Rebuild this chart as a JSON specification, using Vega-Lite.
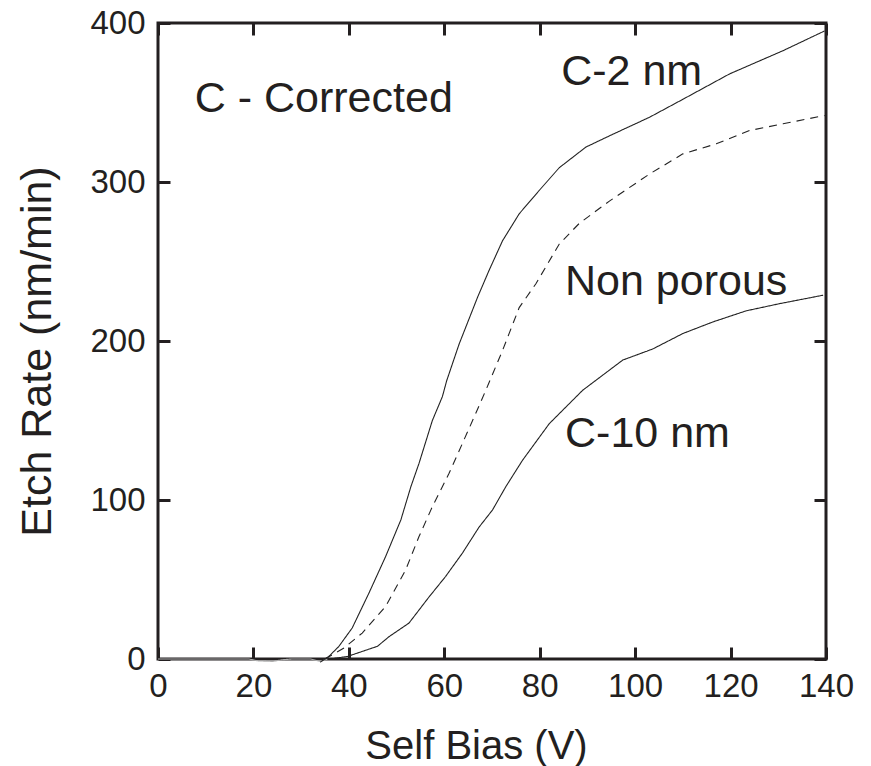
{
  "$schema": "https://vega.github.io/schema/vega-lite/v6.json",
  "width": 668,
  "height": 636,
  "autosize": {"type": "none"},
  "padding": {"left": 158, "top": 23, "right": 45, "bottom": 107},
  "background": "white",
  "config": {"view": {"stroke": "#231f20", "strokeWidth": 3}, "font": "Liberation Sans"},
  "datasets": {
    "curves": [
      {"series": "base", "x": 0, "y": 0},
      {"series": "base", "x": 19, "y": 0},
      {"series": "base", "x": 21, "y": -1.2},
      {"series": "base", "x": 24, "y": -1.5},
      {"series": "base", "x": 26, "y": -0.5},
      {"series": "base", "x": 28, "y": 0},
      {"series": "base", "x": 32, "y": 0},
      {"series": "base", "x": 34, "y": -1.5},
      {"series": "base", "x": 35.5, "y": 0},
      {"series": "C-2 nm", "x": 34, "y": -2},
      {"series": "C-2 nm", "x": 35.8, "y": 1.6},
      {"series": "C-2 nm", "x": 37.9, "y": 7.9},
      {"series": "C-2 nm", "x": 40.7, "y": 19.5},
      {"series": "C-2 nm", "x": 44.2, "y": 41.4},
      {"series": "C-2 nm", "x": 47.7, "y": 64.4},
      {"series": "C-2 nm", "x": 50.9, "y": 87.5},
      {"series": "C-2 nm", "x": 53.0, "y": 108.4},
      {"series": "C-2 nm", "x": 54.7, "y": 123},
      {"series": "C-2 nm", "x": 57.5, "y": 150},
      {"series": "C-2 nm", "x": 59.6, "y": 165},
      {"series": "C-2 nm", "x": 60.5, "y": 175},
      {"series": "C-2 nm", "x": 63.1, "y": 198},
      {"series": "C-2 nm", "x": 67.0, "y": 227.7},
      {"series": "C-2 nm", "x": 69.4, "y": 244.5},
      {"series": "C-2 nm", "x": 72.2, "y": 263},
      {"series": "C-2 nm", "x": 75.7, "y": 280},
      {"series": "C-2 nm", "x": 79.9, "y": 294.7},
      {"series": "C-2 nm", "x": 84.1, "y": 309},
      {"series": "C-2 nm", "x": 89.7, "y": 322},
      {"series": "C-2 nm", "x": 95.3, "y": 330},
      {"series": "C-2 nm", "x": 103, "y": 340.7},
      {"series": "C-2 nm", "x": 110, "y": 352},
      {"series": "C-2 nm", "x": 119.8, "y": 368},
      {"series": "C-2 nm", "x": 131, "y": 382.6},
      {"series": "C-2 nm", "x": 139.7, "y": 395},
      {"series": "Non porous", "x": 35, "y": 0},
      {"series": "Non porous", "x": 39, "y": 7},
      {"series": "Non porous", "x": 42.8, "y": 16.3},
      {"series": "Non porous", "x": 47.7, "y": 33},
      {"series": "Non porous", "x": 51.9, "y": 56},
      {"series": "Non porous", "x": 54.7, "y": 77},
      {"series": "Non porous", "x": 57.5, "y": 95.8},
      {"series": "Non porous", "x": 61, "y": 116.8},
      {"series": "Non porous", "x": 63.8, "y": 135.6},
      {"series": "Non porous", "x": 66.6, "y": 154.5},
      {"series": "Non porous", "x": 68.7, "y": 169},
      {"series": "Non porous", "x": 72.2, "y": 194},
      {"series": "Non porous", "x": 75.7, "y": 221},
      {"series": "Non porous", "x": 79.2, "y": 236},
      {"series": "Non porous", "x": 84.1, "y": 261},
      {"series": "Non porous", "x": 88.3, "y": 274},
      {"series": "Non porous", "x": 94.6, "y": 288},
      {"series": "Non porous", "x": 103, "y": 305},
      {"series": "Non porous", "x": 110, "y": 317.7},
      {"series": "Non porous", "x": 117, "y": 324},
      {"series": "Non porous", "x": 124, "y": 332.4},
      {"series": "Non porous", "x": 131, "y": 336.6},
      {"series": "Non porous", "x": 139.7, "y": 341.8},
      {"series": "C-10 nm", "x": 36, "y": 0},
      {"series": "C-10 nm", "x": 39.7, "y": 1.6},
      {"series": "C-10 nm", "x": 46, "y": 8},
      {"series": "C-10 nm", "x": 48.4, "y": 14},
      {"series": "C-10 nm", "x": 52.6, "y": 22.6},
      {"series": "C-10 nm", "x": 56.8, "y": 39},
      {"series": "C-10 nm", "x": 60.3, "y": 52},
      {"series": "C-10 nm", "x": 63.8, "y": 66.6},
      {"series": "C-10 nm", "x": 67.3, "y": 83},
      {"series": "C-10 nm", "x": 70.1, "y": 93.7},
      {"series": "C-10 nm", "x": 72.9, "y": 108.4},
      {"series": "C-10 nm", "x": 76.4, "y": 125},
      {"series": "C-10 nm", "x": 82, "y": 148},
      {"series": "C-10 nm", "x": 89, "y": 169},
      {"series": "C-10 nm", "x": 97.4, "y": 188},
      {"series": "C-10 nm", "x": 103.7, "y": 195},
      {"series": "C-10 nm", "x": 110, "y": 204.7},
      {"series": "C-10 nm", "x": 116.3, "y": 212},
      {"series": "C-10 nm", "x": 123.3, "y": 219},
      {"series": "C-10 nm", "x": 130.3, "y": 223.5},
      {"series": "C-10 nm", "x": 139.4, "y": 228.8}
    ],
    "labels": [
      {"label": "C - Corrected", "x": 7.7, "y": 344},
      {"label": "C-2 nm", "x": 84.5, "y": 361},
      {"label": "Non porous", "x": 85.3, "y": 229},
      {"label": "C-10 nm", "x": 85.3, "y": 133.5}
    ]
  },
  "layer": [
    {
      "data": {"name": "curves"},
      "mark": {"type": "line", "strokeWidth": 1.1, "clip": false},
      "encoding": {
        "x": {
          "field": "x", "type": "quantitative",
          "scale": {"domain": [0, 140], "nice": false},
          "axis": {
            "orient": "bottom", "values": [0, 20, 40, 60, 80, 100, 120, 140],
            "domain": false, "grid": false,
            "tickSize": -12, "tickWidth": 3, "tickColor": "#231f20",
            "labelFont": "Liberation Sans", "labelFontSize": 33, "labelColor": "#231f20",
            "labelBaseline": "alphabetic", "labelPadding": 49,
            "labelFlush": false, "labelOverlap": false,
            "title": "Self Bias (V)", "titleFont": "Liberation Sans", "titleFontSize": 40,
            "titleFontWeight": "normal", "titleColor": "#231f20",
            "titleBaseline": "alphabetic", "titleX": 318, "titleY": 99
          }
        },
        "y": {
          "field": "y", "type": "quantitative",
          "scale": {"domain": [0, 400], "nice": false},
          "axis": {
            "orient": "left", "values": [0, 100, 200, 300, 400],
            "domain": false, "grid": false,
            "tickSize": -12, "tickWidth": 3, "tickColor": "#231f20",
            "labelFont": "Liberation Sans", "labelFontSize": 33, "labelColor": "#231f20",
            "labelBaseline": "middle", "labelPadding": 25,
            "labelFlush": false, "labelOverlap": false,
            "title": "Etch Rate (nm/min)", "titleFont": "Liberation Sans", "titleFontSize": 43,
            "titleFontWeight": "normal", "titleColor": "#231f20",
            "titleBaseline": "alphabetic", "titleAngle": -90, "titleX": -108, "titleY": 328
          }
        },
        "color": {
          "field": "series", "type": "nominal",
          "scale": {"domain": ["base", "C-2 nm", "Non porous", "C-10 nm"], "range": ["#b0b0b0", "#222222", "#222222", "#222222"]},
          "legend": null
        },
        "strokeDash": {
          "field": "series", "type": "nominal",
          "scale": {"domain": ["base", "C-2 nm", "Non porous", "C-10 nm"], "range": [[1, 0], [1, 0], [8, 6], [1, 0]]},
          "legend": null
        }
      }
    },
    {
      "data": {"name": "labels"},
      "mark": {"type": "text", "align": "left", "baseline": "alphabetic", "fontSize": 43, "font": "Liberation Sans", "color": "#231f20"},
      "encoding": {
        "x": {
          "field": "x", "type": "quantitative",
          "axis": {"orient": "top", "values": [0, 20, 40, 60, 80, 100, 120, 140], "domain": false, "grid": false, "labels": false, "title": null, "tickSize": -12, "tickWidth": 3, "tickColor": "#231f20"}
        },
        "y": {
          "field": "y", "type": "quantitative",
          "axis": {"orient": "right", "values": [0, 100, 200, 300, 400], "domain": false, "grid": false, "labels": false, "title": null, "tickSize": -12, "tickWidth": 3, "tickColor": "#231f20"}
        },
        "text": {"field": "label"}
      }
    }
  ],
  "resolve": {"axis": {"x": "independent", "y": "independent"}}
}
